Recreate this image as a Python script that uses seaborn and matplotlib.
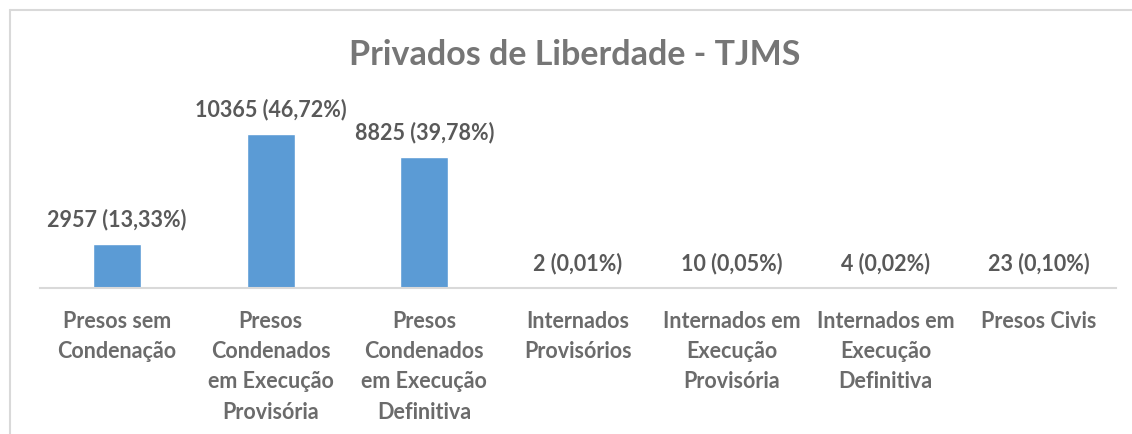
import matplotlib
matplotlib.use("Agg")
import matplotlib.pyplot as plt
from matplotlib.lines import Line2D
import seaborn as sns
import pandas as pd

categories = [
    "Presos sem\nCondenação",
    "Presos\nCondenados\nem Execução\nProvisória",
    "Presos\nCondenados\nem Execução\nDefinitiva",
    "Internados\nProvisórios",
    "Internados em\nExecução\nProvisória",
    "Internados em\nExecução\nDefinitiva",
    "Presos Civis",
]
valores = [2957, 10365, 8825, 2, 10, 4, 23]
percentuais = ["13,33%", "46,72%", "39,78%", "0,01%", "0,05%", "0,02%", "0,10%"]

df = pd.DataFrame({"categoria": categories, "valor": valores})

sns.set_style("white")
plt.rcParams["font.family"] = ["Lato", "DejaVu Sans"]

fig = plt.figure(figsize=(11.32, 4.35), dpi=100)
ax = fig.add_axes([40 / 1132, 1 - 289 / 435, (1116 - 40) / 1132, 190 / 435])

sns.barplot(data=df, x="categoria", y="valor", color="#5B9BD5", width=0.312,
            saturation=1, ax=ax)

ax.set_ylim(0, 12760)
ax.set_xlim(-0.5, len(categories) - 0.5)
ax.set_xlabel("")
ax.set_ylabel("")
ax.set_yticks([])
for s in ["top", "right", "left"]:
    ax.spines[s].set_visible(False)
ax.spines["bottom"].set_color("#D9D9D9")
ax.spines["bottom"].set_linewidth(1.5)
ax.tick_params(axis="x", length=0, pad=15.5)
for lab in ax.get_xticklabels():
    lab.set_fontsize(15.5)
    lab.set_fontweight("bold")
    lab.set_color("#6b6b6b")
    lab.set_linespacing(1.55)
    lab.set_horizontalalignment("center")
    lab.set_verticalalignment("top")

for i, (v, p) in enumerate(zip(valores, percentuais)):
    ax.annotate(f"{v} ({p})", (i, v), xytext=(0, 18), textcoords="offset points",
                ha="center", va="center", fontsize=15.5, fontweight="bold",
                color="#595959")

fig.text(575 / 1132, 1 - 55 / 435, "Privados de Liberdade - TJMS", ha="center",
         va="center", fontsize=24.5, fontweight="bold", color="#767676")

# moldura do gráfico
fig.add_artist(Line2D([10 / 1132, 1], [1 - 11 / 435] * 2, color="#D9D9D9", lw=1.5,
                      transform=fig.transFigure))
fig.add_artist(Line2D([10 / 1132] * 2, [0, 1 - 11 / 435], color="#D9D9D9", lw=1.5,
                      transform=fig.transFigure))

fig.savefig("out.png", dpi=100, facecolor="white")
